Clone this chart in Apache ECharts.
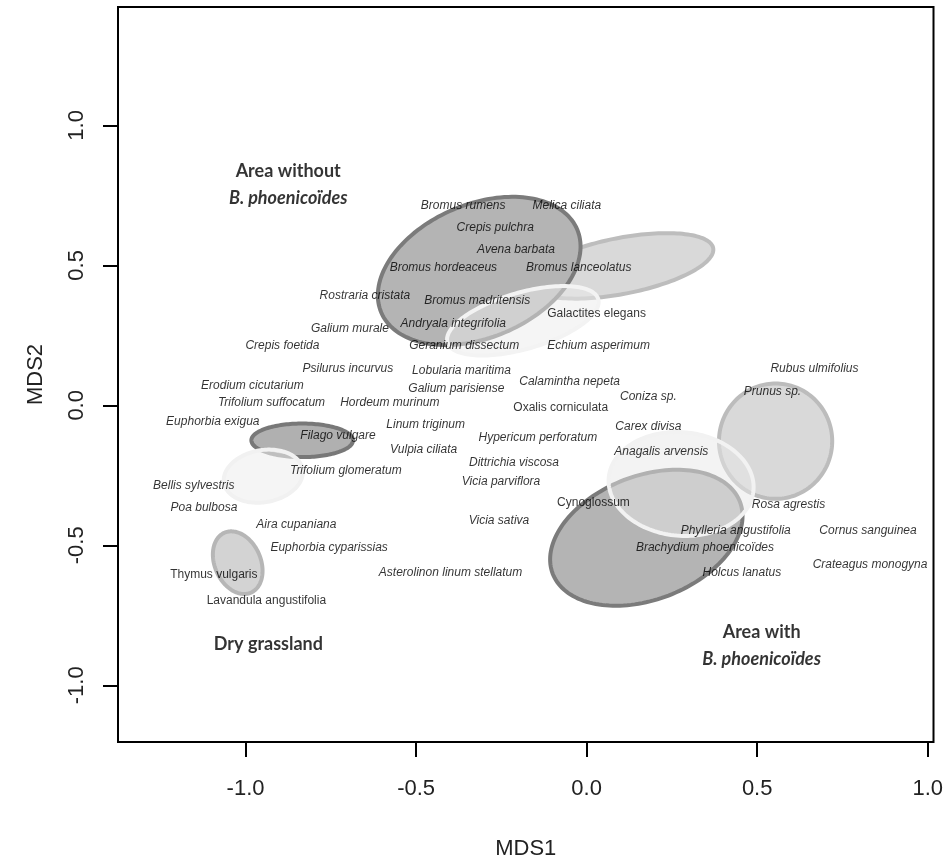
<!DOCTYPE html>
<html>
<head>
<meta charset="utf-8">
<script src="https://cdn.jsdelivr.net/npm/echarts@6/dist/echarts.min.js"></script>
<style>
html,body{margin:0;padding:0;background:#fff;}
#chart{width:946px;height:865px;}
</style>
</head>
<body>
<div id="chart"></div>
<script>
// ---- Data ----
const xTicks = [-1.0, -0.5, 0.0, 0.5, 1.0];
const yTicks = [-1.0, -0.5, 0.0, 0.5, 1.0];

const italicSpecies = ['Bromus rumens','Melica ciliata','Crepis pulchra','Avena barbata','Bromus hordeaceus','Bromus lanceolatus','Rostraria cristata','Bromus madritensis','Galium murale','Andryala integrifolia','Crepis foetida','Geranium dissectum','Echium asperimum','Psilurus incurvus','Lobularia maritima','Rubus ulmifolius','Erodium cicutarium','Calamintha nepeta','Galium parisiense','Prunus sp.','Coniza sp.','Trifolium suffocatum','Hordeum murinum','Euphorbia exigua','Linum triginum','Carex divisa','Filago vulgare','Hypericum perforatum','Vulpia ciliata','Anagalis arvensis','Dittrichia viscosa','Trifolium glomeratum','Vicia parviflora','Bellis sylvestris','Rosa agrestis','Poa bulbosa','Vicia sativa','Aira cupaniana','Phylleria angustifolia','Cornus sanguinea','Euphorbia cyparissias','Brachydium phoenicoïdes','Crateagus monogyna','Asterolinon linum stellatum','Holcus lanatus'];
const italicX = [-0.362,-0.058,-0.268,-0.207,-0.420,-0.023,-0.650,-0.321,-0.694,-0.391,-0.892,-0.359,0.035,-0.700,-0.367,0.668,-0.980,-0.050,-0.382,0.545,0.181,-0.924,-0.577,-1.096,-0.472,0.181,-0.729,-0.143,-0.478,0.219,-0.213,-0.706,-0.251,-1.152,0.592,-1.122,-0.257,-0.851,0.437,0.825,-0.755,0.347,0.831,-0.399,0.455];
const italicY = [0.712,0.712,0.633,0.555,0.491,0.491,0.391,0.374,0.274,0.292,0.214,0.214,0.214,0.132,0.125,0.132,0.071,0.085,0.060,0.050,0.032,0.011,0.011,-0.057,-0.068,-0.075,-0.110,-0.114,-0.157,-0.167,-0.206,-0.235,-0.274,-0.288,-0.356,-0.367,-0.413,-0.427,-0.448,-0.448,-0.509,-0.509,-0.569,-0.598,-0.598];

const uprightSpecies = ['Galactites elegans','Oxalis corniculata','Cynoglossum','Thymus vulgaris','Lavandula angustifolia'];
const uprightX = [0.029,-0.076,0.020,-1.093,-0.939];
const uprightY = [0.327,-0.007,-0.349,-0.605,-0.698];

const groupNames = ['Area without', 'Dry grassland', 'Area with'];
const groupSub = ['B. phoenicoïdes', '', 'B. phoenicoïdes'];
const groupX = [-0.875, -0.933, 0.513];
const groupY = [0.788, -0.854, -0.858];

// ellipses: centre (x, y), semi-axes (x units, y units), angle (deg)
const ellipseX  = [0.102, -0.315, -0.187, -0.834, -0.948, -1.023, 0.554, 0.175, 0.277];
const ellipseY  = [0.498,  0.480,  0.302, -0.125, -0.253, -0.562, -0.128, -0.473, -0.281];
const ellipseRX = [0.274,  0.312,  0.230,  0.149,  0.117,  0.096, 0.166, 0.294, 0.213];
const ellipseRY = [0.100,  0.238,  0.101,  0.060,  0.093,  0.082, 0.206, 0.221, 0.185];
const ellipseAngle = [11, 23, 16, 0, 10, -66, 0, 21, -5];

// ---- Styles ----
const ellipseStyles = [
  {fill:'#d9d9d9', stroke:'#bdbdbd'},
  {fill:'#b4b4b4', stroke:'#7b7b7b'},
  {fill:'rgba(236,236,236,0.5)', stroke:'#f3f3f3'},
  {fill:'#b0b0b0', stroke:'#787878'},
  {fill:'rgba(238,238,238,0.6)', stroke:'#f1f1f1'},
  {fill:'#d3d3d3', stroke:'#b6b6b6'},
  {fill:'#d9d9d9', stroke:'#bcbcbc'},
  {fill:'#b4b4b4', stroke:'#7b7b7b'},
  {fill:'rgba(232,232,232,0.5)', stroke:'#f2f2f2'}
];

const ellipseData = ellipseX.map((x, i) => [x, ellipseY[i], ellipseRX[i], ellipseRY[i], ellipseAngle[i]]);
const italicData = italicSpecies.map((n, i) => ({name: n, value: [italicX[i], italicY[i]]}));
const uprightData = uprightSpecies.map((n, i) => ({name: n, value: [uprightX[i], uprightY[i]]}));
const groupData = groupNames.map((n, i) => ({name: n, sub: groupSub[i], value: [groupX[i], groupY[i]]}));

const chart = echarts.init(document.getElementById('chart'), null, {renderer: 'canvas'});

const labelFont = "'Liberation Sans', Arial, sans-serif";
const groupFont = "Lato, 'Open Sans', sans-serif";

chart.setOption({
  animation: false,
  backgroundColor: '#fff',
  grid: {left: 118, right: 8, top: 7, bottom: 119, show: true, borderColor: '#000', borderWidth: 2, backgroundColor: 'transparent'},
  xAxis: {
    type: 'value', min: -1.374, max: 1.017,
    name: 'MDS1', nameLocation: 'middle', nameGap: 96,
    nameTextStyle: {fontFamily: labelFont, fontSize: 22, color: '#222'},
    axisLine: {show: false, onZero: false},
    axisTick: {show: true, customValues: xTicks, length: 15, lineStyle: {color: '#000', width: 2}},
    axisLabel: {customValues: xTicks, margin: 36, fontFamily: labelFont, fontSize: 22, color: '#222', formatter: v => v.toFixed(1)},
    splitLine: {show: false}
  },
  yAxis: {
    type: 'value', min: -1.2025, max: 1.4227,
    name: 'MDS2', nameLocation: 'middle', nameGap: 71, nameRotate: 90,
    nameTextStyle: {fontFamily: labelFont, fontSize: 22, color: '#222'},
    axisLine: {show: false, onZero: false},
    axisTick: {show: true, customValues: yTicks, length: 15, lineStyle: {color: '#000', width: 2}},
    axisLabel: {customValues: yTicks, rotate: 90, margin: 30, fontFamily: labelFont, fontSize: 22, color: '#222', formatter: v => v.toFixed(1)},
    splitLine: {show: false}
  },
  series: [
    {
      type: 'custom',
      data: ellipseData,
      z: 1,
      clip: true,
      renderItem: function (params, api) {
        const c = api.coord([api.value(0), api.value(1)]);
        const s = api.size([api.value(2), api.value(3)]);
        const A = s[0], B = s[1];
        const th = api.value(4) * Math.PI / 180;
        const pts = [];
        const N = 160;
        for (let k = 0; k < N; k++) {
          const t = k / N * Math.PI * 2;
          const ex = A * Math.cos(t), ey = B * Math.sin(t);
          pts.push([c[0] + ex * Math.cos(th) - ey * Math.sin(th), c[1] - (ex * Math.sin(th) + ey * Math.cos(th))]);
        }
        const st = ellipseStyles[params.dataIndex];
        return {type: 'polygon', shape: {points: pts}, style: {fill: st.fill, stroke: st.stroke, lineWidth: 4}};
      }
    },
    {
      type: 'scatter',
      data: italicData,
      symbolSize: 0,
      z: 5,
      label: {show: true, position: 'inside', formatter: '{b}', fontFamily: labelFont, fontStyle: 'italic', fontSize: 12, color: '#000'}
    },
    {
      type: 'scatter',
      data: uprightData,
      symbolSize: 0,
      z: 5,
      label: {show: true, position: 'inside', formatter: '{b}', fontFamily: labelFont, fontSize: 12, color: '#000'}
    },
    {
      type: 'scatter',
      data: groupData,
      symbolSize: 0,
      z: 6,
      label: {
        show: true, position: 'inside',
        formatter: p => p.data.sub ? p.name + '\n{i|' + p.data.sub + '}' : p.name,
        fontFamily: groupFont, fontWeight: 'bold', fontSize: 18, color: '#000', lineHeight: 27, align: 'center',
        rich: {i: {fontFamily: groupFont, fontWeight: 'bold', fontStyle: 'italic', fontSize: 18, color: '#000', lineHeight: 27, align: 'center'}}
      }
    }
  ]
});
</script>
</body>
</html>
